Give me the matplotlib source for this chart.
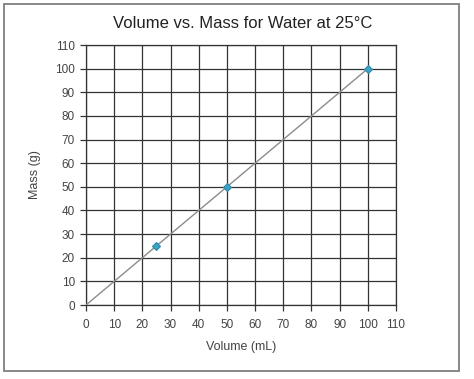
import matplotlib
matplotlib.use("Agg")
import matplotlib.pyplot as plt
from matplotlib.patches import Rectangle

plt.rcParams["font.family"] = ["Liberation Sans", "DejaVu Sans"]

volume = [25, 50, 100]
mass = [25, 50, 100]
trend_x = [0, 100]
trend_y = [0, 100]
ticks = list(range(0, 111, 10))

fig = plt.figure(figsize=(4.74, 3.79), dpi=100)
fig.patch.set_facecolor("white")
fig.add_artist(Rectangle((4/474, 1 - 371/379), 455/474, 367/379, transform=fig.transFigure,
                         fill=False, ec="#7f7f7f", lw=1.3))

ax = fig.add_axes([86/474, 1 - 305/379, 310/474, 260/379])
ax.plot(trend_x, trend_y, color="#8c8c8c", lw=1.0, zorder=3)
ax.plot(volume, mass, ls="none", marker="D", ms=4.5, mfc="#3ba3c4", mec="#2f8aa8", mew=0.8, zorder=4)

ax.set_xlim(0, 110); ax.set_ylim(0, 110)
ax.set_xticks(ticks); ax.set_yticks(ticks)
ax.grid(True, color="#333333", lw=0.9)
ax.set_axisbelow(True)
for s in ax.spines.values():
    s.set_color("#333333"); s.set_linewidth(0.9)
ax.tick_params(labelsize=8.5, colors="#333333", length=4, width=0.9)
ax.tick_params(axis="y", pad=4)
ax.tick_params(axis="x", pad=6)
for lab in ax.get_xticklabels() + ax.get_yticklabels():
    lab.set_color("#444444")

ax.set_xlabel("Volume (mL)", fontsize=9, color="#444444", labelpad=7)
ax.set_ylabel("Mass (g)", fontsize=9, color="#444444", labelpad=10)
fig.text(243/474, 1 - 23/379, "Volume vs. Mass for Water at 25°C", ha="center", va="center",
         fontsize=12, color="#222222")

fig.savefig("out.png", dpi=100, facecolor="white")
